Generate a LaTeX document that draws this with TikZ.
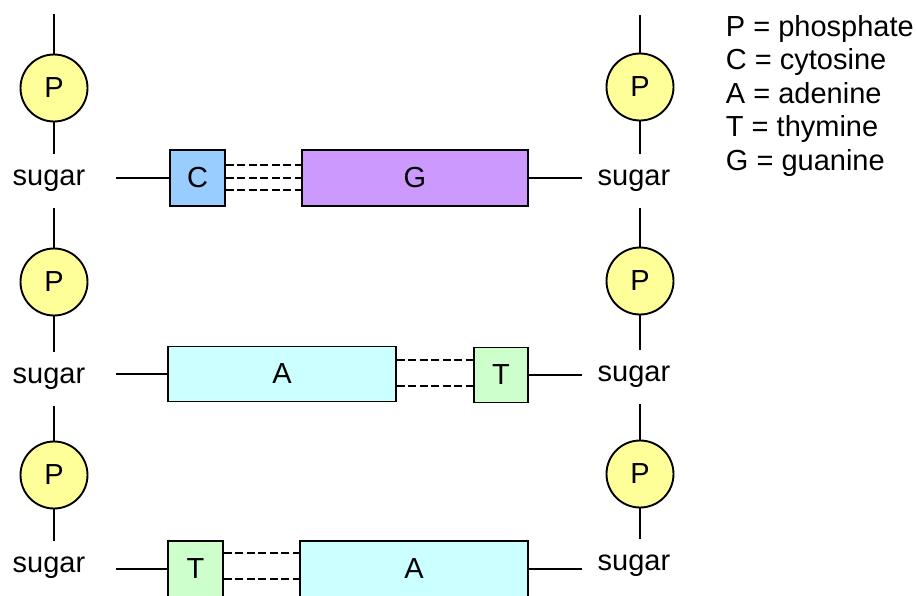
\documentclass[tikz,border=0pt]{standalone}
\usepackage{fontspec}
\setmainfont{Liberation Sans}
\usetikzlibrary{calc}
\definecolor{pyellow}{HTML}{FFFF99}
\definecolor{cblue}{HTML}{99CCFF}
\definecolor{gpurple}{HTML}{CC99FF}
\definecolor{acyan}{HTML}{CCFFFF}
\definecolor{tgreen}{HTML}{CCFFCC}
\begin{document}
\begin{tikzpicture}[x=1pt,y=-1pt,line width=1.9pt,
  font=\fontsize{29}{33.5}\selectfont,
  phos/.style={circle,draw,fill=pyellow,minimum size=67pt,inner sep=0pt},
  basebox/.style={draw,inner sep=0pt},
  lsugar/.style={inner ysep=10pt,inner xsep=30pt,text height=20pt,text depth=12pt,anchor=base},
  rsugar/.style={inner ysep=10pt,inner xsep=15pt,text height=20pt,text depth=12pt,anchor=base},
  hbond/.style={dash pattern=on 8pt off 3.5pt,line width=1.8pt},
  legend/.style={anchor=base west,inner sep=0pt}]
\useasboundingbox (0,0) rectangle (917,595);
\fill[white] (0,0) rectangle (917,595);
\clip (0,0) rectangle (917,595);

% left backbone
\coordinate (lt) at (54,14);
\node[phos] (lp1) at (54,88) {P};
\node[phos] (lp2) at (54,282) {P};
\node[phos] (lp3) at (54,475) {P};
\node[lsugar] (ls1) at (49,185) {sugar};
\node[lsugar] (ls2) at (49,383) {sugar};
\node[lsugar] (ls3) at (49,572) {sugar};

% right backbone
\coordinate (rt) at (640,15);
\node[phos] (rp1) at (640,87) {P};
\node[phos] (rp2) at (640,281) {P};
\node[phos] (rp3) at (640,474) {P};
\node[rsugar] (rs1) at (634,185) {sugar};
\node[rsugar] (rs2) at (634,381) {sugar};
\node[rsugar] (rs3) at (634,570) {sugar};

% vertical connectors
\draw (lt) -- (lp1.north);
\draw (lp1.south) -- (lp1 |- ls1.north);
\draw (lp2 |- ls1.south) -- (lp2.north);
\draw (lp2.south) -- (lp2 |- ls2.north);
\draw (lp3 |- ls2.south) -- (lp3.north);
\draw (lp3.south) -- (lp3 |- ls3.north);
\draw (rt) -- (rp1.north);
\draw (rp1.south) -- (rp1 |- rs1.north);
\draw (rp2 |- rs1.south) -- (rp2.north);
\draw (rp2.south) -- (rp2 |- rs2.north);
\draw (rp3 |- rs2.south) -- (rp3.north);
\draw (rp3.south) -- (rp3 |- rs3.north);

% bases
\node[basebox,fill=cblue,minimum width=55pt,minimum height=56pt] (C1) at (197.5,178) {C};
\node[basebox,fill=gpurple,minimum width=226pt,minimum height=56pt] (G1) at (415,178) {G};
\node[basebox,fill=acyan,minimum width=228pt,minimum height=55pt] (A2) at (282,374) {A};
\node[basebox,fill=tgreen,minimum width=54pt,minimum height=55pt] (T2) at (501,375) {T};
\node[basebox,fill=tgreen,minimum width=55pt,minimum height=56pt] (T3) at (195.5,569) {T};
\node[basebox,fill=acyan,minimum width=228pt,minimum height=56pt] (A3) at (414,569) {A};

% sugar to base connectors
\draw (ls1.east |- C1.west) -- (C1.west);
\draw (G1.east) -- (G1.east -| rs1.west);
\draw (ls2.east |- A2.west) -- (A2.west);
\draw (T2.east) -- (T2.east -| rs2.west);
\draw (ls3.east |- T3.west) -- (T3.west);
\draw (A3.east) -- (A3.east -| rs3.west);

% hydrogen bonds
\coordinate (h1a) at ($(C1.east)+(0,-13)$);
\coordinate (h1b) at (C1.east);
\coordinate (h1c) at ($(C1.east)+(0,12)$);
\draw[hbond] (h1a) -- (h1a -| G1.west);
\draw[hbond] (h1b) -- (h1b -| G1.west);
\draw[hbond] (h1c) -- (h1c -| G1.west);
\coordinate (h2a) at ($(A2.east)+(0,-14)$);
\coordinate (h2b) at ($(A2.east)+(0,12)$);
\draw[hbond] (h2a) -- (h2a -| T2.west);
\draw[hbond] (h2b) -- (h2b -| T2.west);
\coordinate (h3a) at ($(T3.east)+(0,-16)$);
\coordinate (h3b) at ($(T3.east)+(0,10)$);
\draw[hbond] (h3a) -- (h3a -| A3.west);
\draw[hbond] (h3b) -- (h3b -| A3.west);

% legend
\node[legend] (k1) at (725,36) {P = phosphate};
\node[legend] (k2) at (725,69.5) {C = cytosine};
\node[legend] (k3) at (725,103) {A = adenine};
\node[legend] (k4) at (725,136.5) {T = thymine};
\node[legend] (k5) at (725,170) {G = guanine};
\end{tikzpicture}
\end{document}
